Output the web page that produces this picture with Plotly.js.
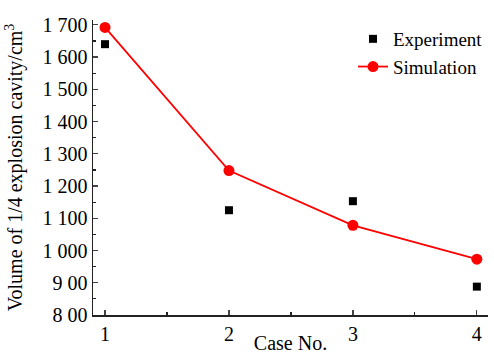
<!DOCTYPE html>
<html><head><meta charset="utf-8">
<script src="https://cdn.plot.ly/plotly-3.0.1.min.js"></script>
<style>html,body{margin:0;padding:0;background:#fff}#chart{width:494px;height:354px}</style>
</head><body><div id="chart"></div>
<script>
const cases = [1, 2, 3, 4];
const experiment = [1640, 1125, 1153, 888];
const simulation = [1692, 1248, 1078, 973];
const yTickVals = [800, 900, 1000, 1100, 1200, 1300, 1400, 1500, 1600, 1700];
const yTickText = ['8 00', '9 00', '1 000', '1 100', '1 200', '1 300', '1 400', '1 500', '1 600', '1 700'];
const xTickVals = [1, 2, 3, 4];
const xTickText = ['1', '2', '3', '4'];

const FAM = 'Liberation Serif, Times New Roman, serif';
const f = (s) => ({family: FAM, size: s, color: '#000'});

Plotly.newPlot('chart', [
  {x: cases, y: experiment, name: 'Experiment', mode: 'markers', type: 'scatter',
   marker: {symbol: 'square', size: 8, color: '#000'}},
  {x: cases, y: simulation, name: 'Simulation', mode: 'lines+markers', type: 'scatter',
   line: {color: '#ff0000', width: 1.8}, marker: {symbol: 'circle', size: 11, color: '#ff0000'}}
], {
  width: 494, height: 354,
  margin: {l: 93, r: 6, t: 20, b: 39},
  paper_bgcolor: '#fff', plot_bgcolor: '#fff',
  font: f(20),
  showlegend: true,
  legend: {x: 1.0, y: 1.0, xanchor: 'right', yanchor: 'top', bgcolor: 'rgba(0,0,0,0)',
    font: f(19), tracegroupgap: 0, itemwidth: 30},
  xaxis: {range: [0.903, 4.09], tickmode: 'array', tickvals: xTickVals, ticktext: xTickText,
    ticks: 'inside', ticklen: 5, tickwidth: 1.2, showline: true, linewidth: 1.5, linecolor: '#222',
    showgrid: false, zeroline: false, tickfont: f(20),
    minor: {tickvals: [1.5, 2.5, 3.5], ticks: 'inside', ticklen: 3, tickwidth: 1.2, tickcolor: '#222'},
    title: {text: 'Case No.', font: f(20), standoff: 0}},
  yaxis: {range: [800, 1715], tickmode: 'array', tickvals: yTickVals, ticktext: yTickText,
    ticks: 'inside', ticklen: 5, tickwidth: 1.2, showline: true, linewidth: 1.5, linecolor: '#222',
    showgrid: false, zeroline: false, tickfont: f(20),
    minor: {tickvals: [850, 950, 1050, 1150, 1250, 1350, 1450, 1550, 1650], ticks: 'inside', ticklen: 3, tickwidth: 1.2, tickcolor: '#222'},
    title: {text: 'Volume of 1/4 explosion cavity/cm<sup>3</sup>', font: f(20), standoff: 14}}
}, {displayModeBar: false, staticPlot: true});
</script></body></html>
